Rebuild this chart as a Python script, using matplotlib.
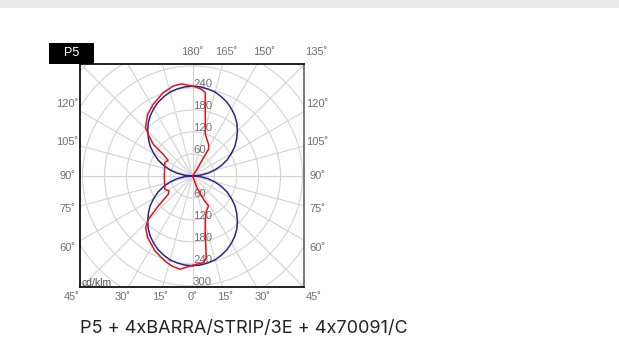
import numpy as np
import matplotlib.pyplot as plt
from matplotlib.patches import Circle, Rectangle

# blue curve: symmetric plane, gamma 0 (nadir) .. 180 (zenith) every 5 deg
blue_gamma = [0, 5, 10, 15, 20, 25, 30, 35, 40, 45, 50, 55, 60, 65, 70, 75, 80, 85, 90,
              95, 100, 105, 110, 115, 120, 125, 130, 135, 140, 145, 150, 155, 160, 165,
              170, 175, 180]
blue_cd = [245, 244, 241, 237, 230, 222, 212, 201, 188, 173, 157, 141, 122, 104, 84, 63, 43, 21, 0,
           21, 43, 63, 84, 104, 122, 141, 157, 173, 188, 201, 212, 222, 230, 237,
           241, 244, 245]

# red curve, right half (C0), in drawing order from nadir to zenith
red_c0_gamma = [0, 7.2, 9.5, 10.5, 12, 14, 15.8, 18.5, 21.4, 28, 25.2, 20.6, 90,
                146, 149, 149, 153.2, 158.5, 163, 165, 168, 170, 171.3, 173.9, 177, 180]
red_c0_cd = [244, 238, 226, 200, 167, 143, 128, 113, 103, 93, 71, 34, 0,
             22, 58, 85, 97, 107, 119, 134, 167, 199, 230, 237, 242, 245]

# red curve, left half (C180)
red_c180_gamma = [0, 4, 7.7, 13.1, 18, 26.6, 36.1, 42.3, 45.6, 48.8, 52.9, 57.6, 64.1, 86.6,
                  93.2, 115.7, 122.7, 126.4, 128.8, 132.5, 135.8, 143.9, 151.2, 160.6,
                  167.9, 173.2, 180]
red_c180_cd = [244, 250, 257, 252, 244, 229, 208, 190, 169, 124, 83, 76, 84, 77,
               77, 84, 79, 99, 137, 161, 184, 208, 223, 241,
               251, 253, 245]

ring_values = [60, 120, 180, 240, 300, 360, 420]
ring_labels = [60, 120, 180, 240, 300]
spoke_angles = list(range(0, 360, 15))

bottom_labels = [15, 30, 45]
side_labels = [60, 75, 90, 105, 120]
top_labels = [135, 150, 165]

title = 'P5 + 4xBARRA/STRIP/3E + 4x70091/C'


def to_xy(gamma, cd, side=1):
    g = np.radians(np.asarray(gamma, dtype=float))
    cd = np.asarray(cd, dtype=float)
    return side * cd * np.sin(g), -cd * np.cos(g)


def edge_point(gamma, side, half):
    x, y = to_xy(gamma, 1.0, side)
    s = half / max(abs(x), abs(y))
    return x * s, y * s


plt.rcParams['font.family'] = ['Liberation Sans', 'DejaVu Sans']

fig = plt.figure(figsize=(6.19, 3.6), dpi=100)
fig.patches.append(Rectangle((0, 1 - 8 / 360), 1, 8 / 360, transform=fig.transFigure,
                             facecolor='#ebebeb', edgecolor='none', zorder=0))

ax = fig.add_axes([80 / 619, 73 / 360, 224 / 619, 223 / 360])
ax.set_xlim(-307, 304)
ax.set_ylim(-303, 305.5)
ax.set_xticks([])
ax.set_yticks([])

grid_c = '#d3d3d3'
for r in ring_values:
    ax.add_patch(Circle((0, 0), r, fill=False, edgecolor=grid_c, lw=0.8, zorder=1))
for a in spoke_angles:
    x, y = to_xy(a, 600)
    ax.plot([0, x], [0, y], color=grid_c, lw=0.8, zorder=1)

# radial scale along the vertical axis
for v in ring_labels:
    ax.text(1, v + 3, str(v), fontsize=8.2, color='#707070', ha='left', va='baseline',
            zorder=2, clip_on=True)
    ax.text(1, -v + 3, str(v), fontsize=8.2, color='#707070', ha='left', va='baseline',
            zorder=2, clip_on=True)

# curves
for side in (1, -1):
    bx, by = to_xy(blue_gamma, blue_cd, side)
    ax.plot(bx, by, color='#2b2589', lw=1.1, zorder=3)
rx, ry = to_xy(red_c0_gamma, red_c0_cd, 1)
ax.plot(rx, ry, color='#e8101a', lw=1.1, zorder=4)
lx, ly = to_xy(red_c180_gamma, red_c180_cd, -1)
ax.plot(lx, ly, color='#e8101a', lw=1.1, zorder=4)

for name in ('left', 'bottom', 'top'):
    ax.spines[name].set_color('#111111')
    ax.spines[name].set_linewidth(1.3)
ax.spines['right'].set_color('#555555')
ax.spines['right'].set_linewidth(1.1)

# angle labels around the frame
lab = dict(fontsize=8, color='#707070', ha='center', va='center', clip_on=False)
x, y = edge_point(0, 1, 330)
ax.text(x, y, '0\u02da', **lab)
for a in bottom_labels:
    for side in (1, -1):
        x, y = edge_point(a, side, 330)
        ax.text(x, y, f'{a}\u02da', **lab)
for a in side_labels:
    for side in (1, -1):
        x, y = edge_point(a, side, 341)
        ax.text(x, y, f'{a}\u02da', **lab)
x, y = edge_point(180, 1, 338)
ax.text(x, y, '180\u02da', **lab)
for a in top_labels:
    x, y = edge_point(a, 1, 338)
    ax.text(x, y, f'{a}\u02da', **lab)

ax.text(-303, -301, 'cd/klm', fontsize=7.5, color='#505050', ha='left', va='baseline', zorder=5)

# plane tag
fig.patches.append(Rectangle((49 / 619, 1 - 64 / 360), 45 / 619, 21 / 360,
                             transform=fig.transFigure, facecolor='black',
                             edgecolor='none', zorder=5))
fig.text(71.5 / 619, 1 - 53.5 / 360, 'P5', color='white', fontsize=9,
         ha='center', va='center', zorder=6)

fig.text(80 / 619, 27 / 360, title, family=['Inter', 'DejaVu Sans'], fontsize=13,
         color='#222222', ha='left', va='baseline')

fig.savefig('out.png', dpi=100, facecolor='white')
